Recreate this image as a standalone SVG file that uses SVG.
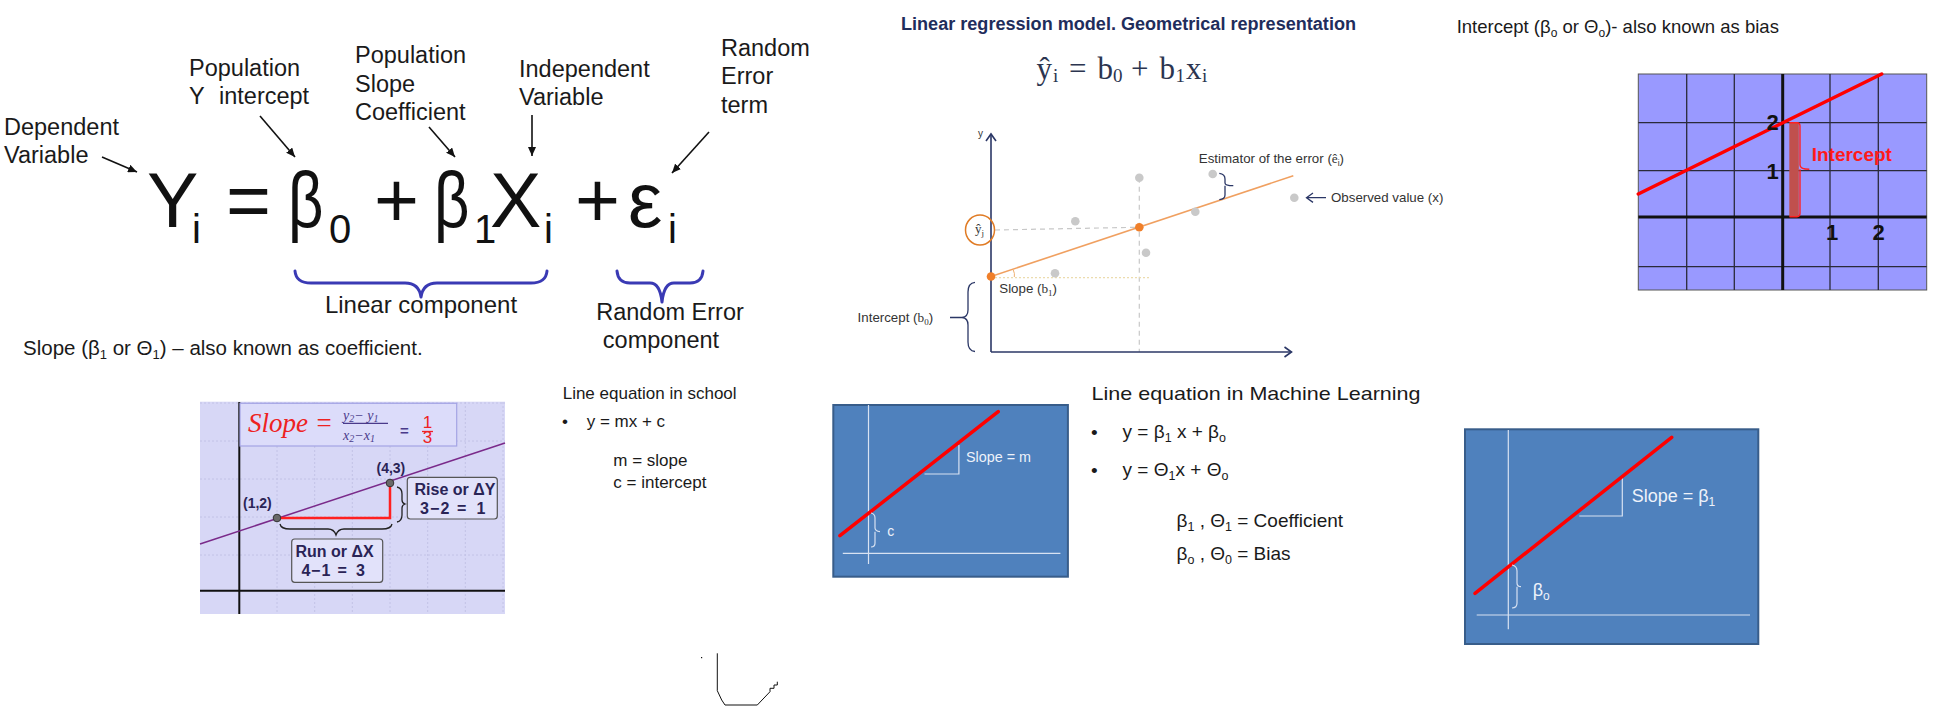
<svg xmlns="http://www.w3.org/2000/svg" width="1960" height="712" viewBox="0 0 1960 712" fill="#1a1a1a">
<defs>
<style>
text{font-family:"Liberation Sans",Arial,sans-serif}
.lbl{font-size:23.5px}
.big{font-size:77px;fill:#111}
.bsub{font-size:40px;fill:#111}
.ptr{stroke:#111;stroke-width:1.6;fill:none}
.brc{stroke:#3a3ab4;stroke-width:3;fill:none;stroke-linecap:round;stroke-linejoin:round}
.blk{stroke:#222;stroke-width:1.3;fill:none}
.grid1{stroke:#c2c2e6;stroke-width:1;stroke-dasharray:2 2}
.ptlbl{font-size:14px;font-weight:bold;fill:#2a2456}
.boxt{font-size:16px;font-weight:bold;fill:#2a2456}
.nav{stroke:#2b3766;stroke-width:1.6;fill:none}
.gdot{fill:#c9c9c9}
.odot{fill:#f07f2a}
.small{font-size:13.3px;fill:#333}
.serif{font-family:"Liberation Serif","Times New Roman",serif}
.frm{font-family:"Liberation Serif","Times New Roman",serif;font-size:31px;fill:#2c3550}
.fsub{font-family:"Liberation Serif","Times New Roman",serif;font-size:19px;fill:#2c3550}
.mid{font-size:19px;fill:#1a1a1a}
.sch{font-size:17px;fill:#1a1a1a}
.bluebox{fill:#4f81bd;stroke:#385d8a;stroke-width:2}
.wl{stroke:#d8e2f2;stroke-width:1.2;fill:none}
.redl{stroke:#ff0000;stroke-width:3.5;stroke-linecap:round}
.wt{fill:#eef2fa}
.igrid{stroke:#2a2a3a;stroke-width:1.3}
.inum{font-size:22px;font-weight:bold;fill:#111}
</style>
<marker id="ah" markerUnits="userSpaceOnUse" markerWidth="10" markerHeight="8" refX="9" refY="4" orient="auto">
<path d="M0,0 L9,4 L0,8 z" fill="#111"/>
</marker>
<marker id="chev" markerUnits="userSpaceOnUse" markerWidth="12" markerHeight="12" refX="9" refY="6" orient="auto">
<path d="M2,1 L9,6 L2,11" fill="none" stroke="#2b3766" stroke-width="1.6"/>
</marker>
</defs>
<rect width="1960" height="712" fill="#ffffff"/>

<!-- Left: population regression equation -->
<g id="label-dependent">
<text class="lbl" x="4" y="135">Dependent</text>
<text class="lbl" x="4" y="163">Variable</text>
</g>
<g id="label-intercept">
<text class="lbl" x="189" y="76">Population</text>
<text class="lbl" y="104"><tspan x="189">Y</tspan><tspan x="219">intercept</tspan></text>
</g>
<g id="label-slope">
<text class="lbl" x="355" y="63">Population</text>
<text class="lbl" x="355" y="91.5">Slope</text>
<text class="lbl" x="355" y="120">Coefficient</text>
</g>
<g id="label-independent">
<text class="lbl" x="519" y="77">Independent</text>
<text class="lbl" x="519" y="105">Variable</text>
</g>
<g id="label-error">
<text class="lbl" x="721" y="56">Random</text>
<text class="lbl" x="721" y="84">Error</text>
<text class="lbl" x="721" y="112.5">term</text>
</g>
<g id="equation">
<text class="big" x="147" y="227">Y</text>
<text class="bsub" x="192" y="243">i</text>
<text class="big" x="226" y="227">=</text>
<text class="big" transform="translate(288,227) scale(0.8,1)" x="0" y="0">β</text>
<text class="bsub" x="329" y="243">0</text>
<text class="big" x="374" y="227">+</text>
<text class="big" transform="translate(434,227) scale(0.8,1)" x="0" y="0">β</text>
<text class="bsub" x="474" y="243">1</text>
<text class="big" x="490" y="227">X</text>
<text class="bsub" x="544" y="243">i</text>
<text class="big" x="575" y="227">+</text>
<text class="big" x="628" y="227">ε</text>
<text class="bsub" x="668" y="243">i</text>
</g>
<g id="connectors">
<line class="ptr" x1="102" y1="157" x2="137" y2="172" marker-end="url(#ah)"/>
<line class="ptr" x1="260" y1="116" x2="295" y2="157" marker-end="url(#ah)"/>
<line class="ptr" x1="429" y1="127" x2="455" y2="157" marker-end="url(#ah)"/>
<line class="ptr" x1="532" y1="115" x2="532" y2="156" marker-end="url(#ah)"/>
<line class="ptr" x1="709" y1="132" x2="672" y2="173" marker-end="url(#ah)"/>
</g>
<g id="brace-linear">
<path class="brc" d="M295,271 Q296,283 311,283 L405,283 Q419,283 421,297 Q423,283 437,283 L531,283 Q546,283 547,271"/>
<text x="421" y="313" text-anchor="middle" font-size="24">Linear component</text>
</g>
<g id="brace-error">
<path class="brc" d="M617,271 Q618,283 630,283 L650,283 Q660,283 662,302 Q664,283 674,283 L690,283 Q702,283 703,271"/>
<text class="lbl" x="670" y="320" text-anchor="middle">Random Error</text>
<text class="lbl" x="661" y="348" text-anchor="middle">component</text>
</g>
<g id="slope-caption">
<text x="23" y="355" font-size="20.5">Slope (β<tspan font-size="13" dy="4">1</tspan><tspan dy="-4"> or Θ</tspan><tspan font-size="13" dy="4">1</tspan><tspan dy="-4">) – also known as coefficient.</tspan></text>
</g>

<!-- Slope chart -->
<g id="slope-chart">
<rect x="200" y="401.7" width="305" height="212.3" fill="#d7d7f6"/>
<g class="grid1">
<line x1="277" y1="402" x2="277" y2="614"/><line x1="314.7" y1="402" x2="314.7" y2="614"/>
<line x1="352.3" y1="402" x2="352.3" y2="614"/><line x1="390" y1="402" x2="390" y2="614"/>
<line x1="427.7" y1="402" x2="427.7" y2="614"/><line x1="465.3" y1="402" x2="465.3" y2="614"/>
<line x1="503" y1="402" x2="503" y2="614"/>
<line x1="200" y1="555" x2="505" y2="555"/><line x1="200" y1="517" x2="505" y2="517"/>
<line x1="200" y1="479" x2="505" y2="479"/><line x1="200" y1="441" x2="505" y2="441"/>
<line x1="200" y1="403" x2="505" y2="403"/>
</g>
<line x1="239.3" y1="402" x2="239.3" y2="614" stroke="#111" stroke-width="2"/>
<line x1="200" y1="590.7" x2="505" y2="590.7" stroke="#111" stroke-width="2"/>
<rect x="240" y="403.3" width="216.7" height="42.7" fill="#dcdcfa" stroke="#a4a4e4" stroke-width="1.2"/>
<text class="serif" x="248" y="432" font-size="27" font-style="italic" fill="#ee2222">Slope =</text>
<text class="serif" x="343" y="420" font-size="14" font-style="italic" fill="#4a3a8a">y<tspan font-size="10" dy="2">2</tspan><tspan dy="-2">− y</tspan><tspan font-size="10" dy="2">1</tspan></text>
<line x1="343" y1="423.3" x2="388" y2="423.3" stroke="#4a3a8a" stroke-width="1.2"/>
<text class="serif" x="343" y="440" font-size="14" font-style="italic" fill="#4a3a8a">x<tspan font-size="10" dy="2">2</tspan><tspan dy="-2">−x</tspan><tspan font-size="10" dy="2">1</tspan></text>
<text x="400" y="436" font-size="15" font-weight="bold" fill="#4a3a8a">=</text>
<text x="427.5" y="428" font-size="17" fill="#ee2222" text-anchor="middle">1</text>
<line x1="422" y1="431.5" x2="433" y2="431.5" stroke="#ee2222" stroke-width="1.3"/>
<text x="427.5" y="443" font-size="17" fill="#ee2222" text-anchor="middle">3</text>
<line x1="200" y1="544" x2="505" y2="443" stroke="#7a2a8a" stroke-width="1.5"/>
<path d="M277,518 L390,518 L390,483" fill="none" stroke="#ff2020" stroke-width="2.5"/>
<circle cx="277" cy="518" r="3.8" fill="#6a6a6a" stroke="#333" stroke-width="1"/>
<circle cx="390" cy="483" r="3.8" fill="#6a6a6a" stroke="#333" stroke-width="1"/>
<text class="ptlbl" x="243" y="508">(1,2)</text>
<text class="ptlbl" x="376.5" y="473">(4,3)</text>
<path class="blk" d="M280,524 Q281,529 290,529 L328,529 Q334,529 336,535 Q338,529 344,529 L382,529 Q391,529 392,524"/>
<path class="blk" d="M397,487 Q402,488 402,494 L402,500 Q402,503 405,504 Q402,505 402,508 L402,515 Q402,521 397,522"/>
<rect x="291.7" y="539" width="91" height="43.3" rx="3" fill="#e2e2fa" stroke="#555" stroke-width="1.2"/>
<text class="boxt" x="334.5" y="556.5" text-anchor="middle">Run or ΔX</text>
<text class="boxt" y="575.5"><tspan x="301.5">4</tspan><tspan x="311">−</tspan><tspan x="321.5">1</tspan><tspan x="337.5">=</tspan><tspan x="356">3</tspan></text>
<rect x="407.3" y="477.3" width="90" height="41.7" rx="3" fill="#e2e2fa" stroke="#555" stroke-width="1.2"/>
<text class="boxt" x="455" y="495" text-anchor="middle">Rise or ΔY</text>
<text class="boxt" y="514"><tspan x="420">3</tspan><tspan x="430">−</tspan><tspan x="440.5">2</tspan><tspan x="457">=</tspan><tspan x="476.5">1</tspan></text>
</g>

<!-- School line equation -->
<g id="school-text">
<text class="sch" x="562.7" y="399.3">Line equation in school</text>
<text class="sch" x="562" y="427">•</text>
<text class="sch" x="586.7" y="426.7">y = mx + c</text>
<text class="sch" x="613.3" y="466">m = slope</text>
<text class="sch" x="613.3" y="488.3">c = intercept</text>
</g>
<g id="stray-mark">
<rect x="701" y="657" width="1.2" height="1.2" fill="#111"/>
<path d="M717.3,653.3 L717.3,690.7 L721.7,700 L725,705 L757.3,705 L770,691.7 L770,688.3 L774,688.3 L774,685 L777.3,685 L777.3,681.7" fill="none" stroke="#111" stroke-width="1"/>
</g>

<!-- Geometrical representation -->
<g id="geo-title">
<text x="901" y="30" font-size="18" font-weight="bold" fill="#1f2d5c" textLength="455" lengthAdjust="spacingAndGlyphs">Linear regression model. Geometrical representation</text>
</g>
<g id="geo-formula">
<text class="frm" x="1036.5" y="79">ŷ</text>
<text class="fsub" x="1053" y="82">i</text>
<text class="frm" x="1069" y="79">=</text>
<text class="frm" x="1097.5" y="79">b</text>
<text class="fsub" x="1113" y="82">0</text>
<text class="frm" x="1131" y="79">+</text>
<text class="frm" x="1159.5" y="79">b</text>
<text class="fsub" x="1175.5" y="82">1</text>
<text class="frm" x="1186" y="79">x</text>
<text class="fsub" x="1202" y="82">i</text>
</g>
<g id="geo-graph">
<line x1="1139.3" y1="177.7" x2="1139.3" y2="352" stroke="#c8c8c8" stroke-width="1.2" stroke-dasharray="5 4"/>
<line x1="995" y1="230" x2="1136" y2="227.3" stroke="#c8c8c8" stroke-width="1.2" stroke-dasharray="5 4"/>
<line x1="991" y1="277.7" x2="1149.3" y2="277.7" stroke="#ecdcae" stroke-width="1.2" stroke-dasharray="2 2"/>
<line class="nav" x1="991" y1="352" x2="991" y2="134" marker-end="url(#chev)"/>
<line class="nav" x1="991" y1="352" x2="1291.5" y2="352" marker-end="url(#chev)"/>
<text x="978" y="137" font-size="10" fill="#333">y</text>
<line x1="991" y1="276.5" x2="1293.3" y2="175.7" stroke="#f0a060" stroke-width="1.6"/>
<path d="M1013.3,270 Q1015,273.5 1014.3,277" fill="none" stroke="#f0b070" stroke-width="1"/>
<circle class="gdot" cx="1139.3" cy="177.7" r="4.3"/>
<circle class="gdot" cx="1212.7" cy="174" r="4.3"/>
<circle class="gdot" cx="1195.3" cy="211.7" r="4.3"/>
<circle class="gdot" cx="1075.3" cy="221.3" r="4.3"/>
<circle class="gdot" cx="1146" cy="252.7" r="4.3"/>
<circle class="gdot" cx="1055" cy="273.3" r="4.3"/>
<circle class="gdot" cx="1294.3" cy="197.7" r="4.3"/>
<circle class="odot" cx="991" cy="276.5" r="4.3"/>
<circle class="odot" cx="1139.3" cy="227.3" r="4.3"/>
<ellipse cx="980" cy="230" rx="14.5" ry="15" fill="none" stroke="#e07b24" stroke-width="1.5"/>
<text class="serif" x="975" y="233" font-size="13" fill="#333">ŷ<tspan font-size="9" dy="3">j</tspan></text>
<path d="M1219.3,173.3 Q1225,174 1225,179 L1225,183 Q1225,185.7 1233.3,185.7 M1225,185.7 Q1225,188 1225,191 L1225,195 Q1225,199.3 1219.3,199.6" fill="none" stroke="#2b3766" stroke-width="1.3"/>
<text class="small" x="1198.8" y="163.3">Estimator of the error (<tspan class="serif">ê</tspan><tspan font-size="8.5" dy="3">i</tspan><tspan dy="-3">)</tspan></text>
<path d="M1326,197.7 L1307,197.7 M1313,193 L1306.5,197.7 L1313,202.4" fill="none" stroke="#2b3766" stroke-width="1.3"/>
<text class="small" x="1331" y="201.7">Observed value (x)</text>
<text class="small" x="999.3" y="292.7">Slope (<tspan class="serif">b</tspan><tspan class="serif" font-size="9" dy="3">1</tspan><tspan dy="-3">)</tspan></text>
<path d="M975,282.3 Q968,283 968,292 L968,310 Q968,317 962,317.5 L950,317.5 M962,317.5 Q968,318 968,325 L968,342 Q968,351 975,351.5" fill="none" stroke="#2b3766" stroke-width="1.3"/>
<text class="small" x="857.6" y="321.7">Intercept (<tspan class="serif">b</tspan><tspan class="serif" font-size="9" dy="3">0</tspan><tspan dy="-3">)</tspan></text>
</g>

<!-- Intercept chart (top right) -->
<g id="intercept-caption">
<text x="1456.7" y="32.7" font-size="18.5" fill="#1a1a1a">Intercept (β<tspan font-size="12" dy="4">o</tspan><tspan dy="-4"> or Θ</tspan><tspan font-size="12" dy="4">o</tspan><tspan dy="-4">)- also known as bias</tspan></text>
</g>
<g id="intercept-chart">
<rect x="1638.3" y="74" width="288.4" height="216" fill="#9999ff" stroke="#555" stroke-width="1"/>
<line class="igrid" x1="1686.7" y1="74" x2="1686.7" y2="290"/>
<line class="igrid" x1="1734.3" y1="74" x2="1734.3" y2="290"/>
<line class="igrid" x1="1830" y1="74" x2="1830" y2="290"/>
<line class="igrid" x1="1878.3" y1="74" x2="1878.3" y2="290"/>
<line class="igrid" x1="1638.3" y1="122.7" x2="1926.7" y2="122.7"/>
<line class="igrid" x1="1638.3" y1="170.7" x2="1926.7" y2="170.7"/>
<line class="igrid" x1="1638.3" y1="266.7" x2="1926.7" y2="266.7"/>
<line x1="1782.7" y1="74" x2="1782.7" y2="290" stroke="#111" stroke-width="3"/>
<line x1="1638.3" y1="217" x2="1926.7" y2="217" stroke="#111" stroke-width="3"/>
<rect x="1789.3" y="122.7" width="9.5" height="94" fill="#c0504d"/>
<path d="M1789.5,122.7 L1797,122.7 Q1800,122.7 1800,126 L1800,165 Q1800,169.3 1809.3,169.3 M1800,169.3 Q1800,173 1800,176 L1800,213 Q1800,216.7 1797,216.7 L1789.5,216.7" fill="none" stroke="#ff2020" stroke-width="1.4"/>
<line class="redl" x1="1638.3" y1="194" x2="1881.7" y2="74"/>
<text class="inum" x="1766.5" y="130">2</text>
<text class="inum" x="1766.5" y="179">1</text>
<text class="inum" x="1826" y="240">1</text>
<text class="inum" x="1872.5" y="240">2</text>
<text x="1811.7" y="160.7" font-size="19" font-weight="bold" fill="#ff1a1a">Intercept</text>
</g>

<!-- School line diagram -->
<g id="school-chart">
<rect class="bluebox" x="833.3" y="405" width="234.6" height="171.7"/>
<line class="wl" x1="868.5" y1="405" x2="868.5" y2="564"/>
<line class="wl" x1="842.8" y1="553.3" x2="1060.4" y2="553.3"/>
<path class="wl" d="M924.5,474 L958.9,474 L958.9,445"/>
<line class="redl" x1="839.9" y1="535.7" x2="998.2" y2="411.7"/>
<path class="wl" d="M871,513 Q875,514 875,518 L875,528 Q875,531 880,531.7 M875,531.7 Q875,532 875,535 L875,543 Q875,547 871,547"/>
<text class="wt" x="966" y="461.7" font-size="14" textLength="65" lengthAdjust="spacingAndGlyphs">Slope = m</text>
<text class="wt" x="887.2" y="535.7" font-size="14">c</text>
</g>

<!-- ML line equation -->
<g id="ml-text">
<text class="mid" x="1091.5" y="400" textLength="329" lengthAdjust="spacingAndGlyphs">Line equation in Machine Learning</text>
<text class="mid" x="1091" y="439">•</text>
<text class="mid" x="1122.6" y="438.3">y = β<tspan font-size="12.5" dy="4">1</tspan><tspan dy="-4"> x + β</tspan><tspan font-size="12.5" dy="4">o</tspan></text>
<text class="mid" x="1091" y="476.5">•</text>
<text class="mid" x="1122.6" y="476">y = Θ<tspan font-size="12.5" dy="4">1</tspan><tspan dy="-4">x + Θ</tspan><tspan font-size="12.5" dy="4">o</tspan></text>
<text class="mid" x="1176.5" y="526.7">β<tspan font-size="12.5" dy="4">1</tspan><tspan dy="-4"> , Θ</tspan><tspan font-size="12.5" dy="4">1</tspan><tspan dy="-4"> = Coefficient</tspan></text>
<text class="mid" x="1176.5" y="560">β<tspan font-size="12.5" dy="4">o</tspan><tspan dy="-4"> , Θ</tspan><tspan font-size="12.5" dy="4">0</tspan><tspan dy="-4"> = Bias</tspan></text>
</g>

<!-- ML line diagram -->
<g id="ml-chart">
<rect class="bluebox" x="1465" y="429.3" width="293.3" height="214.7"/>
<line class="wl" x1="1508.3" y1="430" x2="1508.3" y2="629.3"/>
<line class="wl" x1="1476.7" y1="615" x2="1750" y2="615"/>
<path class="wl" d="M1579.3,516 L1622.3,516 L1622.3,477.3"/>
<line class="redl" x1="1475" y1="593.3" x2="1671.7" y2="437.3"/>
<path class="wl" d="M1512,565 Q1517,566 1517,571 L1517,583 Q1517,586.7 1521,586.7 M1517,586.7 Q1517,587 1517,591 L1517,603 Q1517,608 1512,608"/>
<text class="wt" x="1631.7" y="501.7" font-size="18">Slope = β<tspan font-size="12" dy="4">1</tspan></text>
<text class="wt" x="1532.7" y="596" font-size="18">β<tspan font-size="12" dy="4">o</tspan></text>
</g>
</svg>
